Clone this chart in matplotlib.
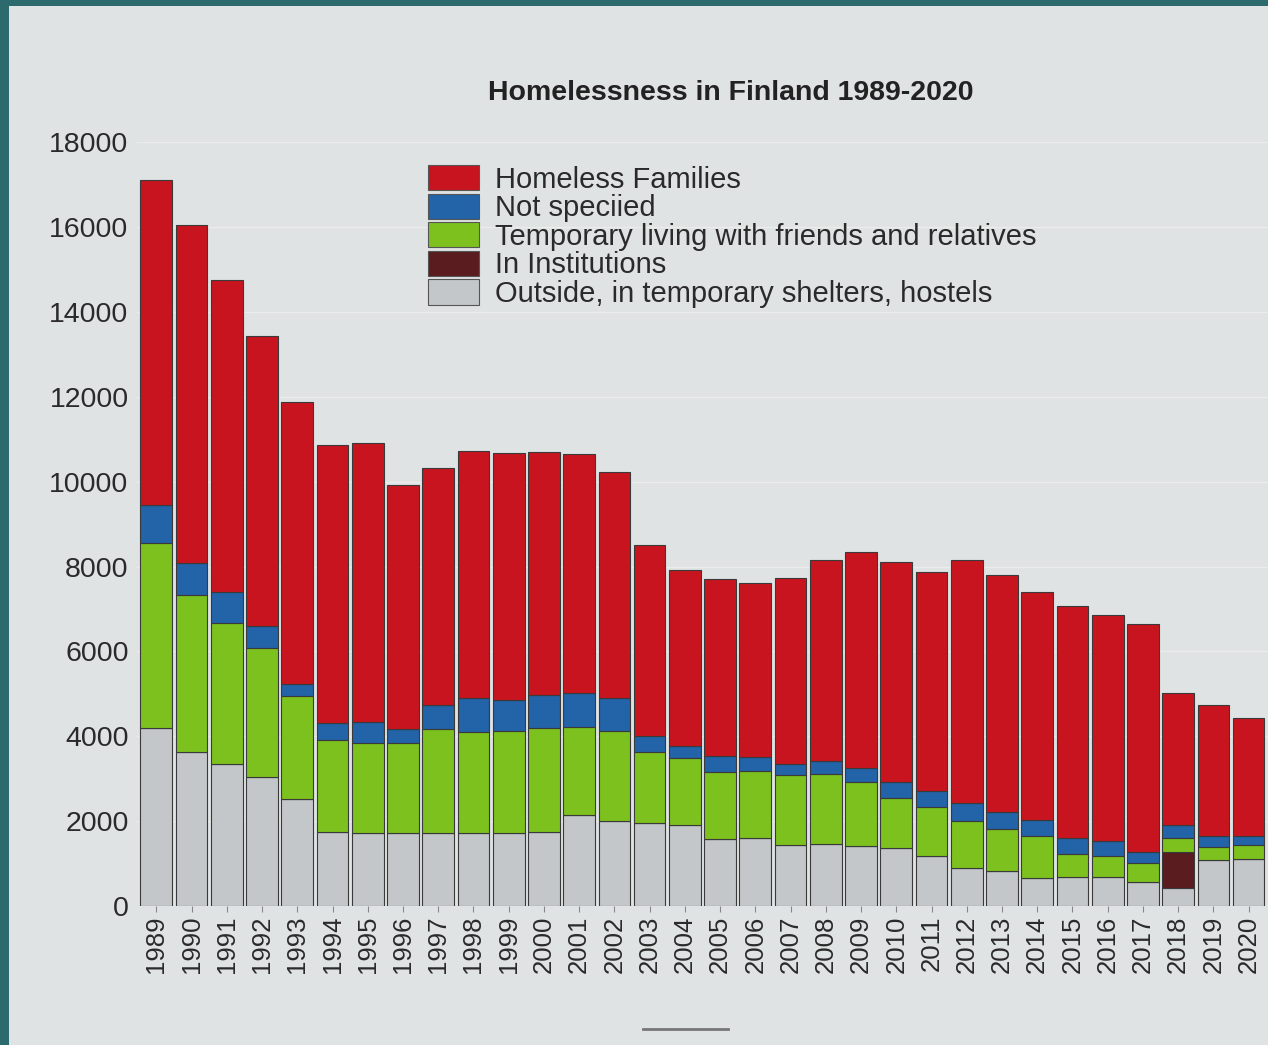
import matplotlib
matplotlib.use("Agg")
import matplotlib.pyplot as plt
from matplotlib.patches import Rectangle, Patch
import numpy as np

years = [str(y) for y in range(1989, 2021)]

outside = [4190, 3630, 3350, 3050, 2520, 1745, 1710, 1710, 1715, 1730, 1715, 1750,
           2150, 2000, 1960, 1900, 1570, 1610, 1440, 1465, 1415, 1360, 1170, 900,
           820, 665, 690, 690, 565, 415, 1085, 1110]
institutions = [0, 0, 0, 0, 0, 0, 0, 0, 0, 0, 0, 0,
                0, 0, 0, 0, 0, 0, 0, 0, 0, 0, 0, 0,
                0, 0, 0, 0, 0, 860, 0, 0]
temporary = [4360, 3700, 3330, 3025, 2435, 2170, 2135, 2135, 2460, 2380, 2420, 2440,
             2065, 2135, 1670, 1590, 1595, 1580, 1645, 1655, 1505, 1190, 1155, 1100,
             1000, 985, 545, 500, 460, 335, 315, 330]
not_specified = [910, 760, 730, 515, 275, 395, 495, 325, 555, 780, 715, 790,
                 795, 755, 385, 290, 365, 320, 265, 290, 325, 370, 390, 430,
                 405, 375, 375, 335, 250, 290, 250, 210]
families = [7640, 7960, 7350, 6840, 6640, 6550, 6580, 5750, 5600, 5840, 5820, 5710,
            5630, 5330, 4495, 4140, 4180, 4100, 4375, 4750, 5105, 5180, 5165, 5730,
            5565, 5370, 5450, 5335, 5365, 3130, 3080, 2780]

labels = ["Homeless Families", "Not speciied",
          "Temporary living with friends and relatives", "In Institutions",
          "Outside, in temporary shelters, hostels"]
colors = ["#c8141e", "#2363a8", "#7cc11d", "#5a1c1e", "#c4c7c9"]

plt.rcParams['font.family'] = ['Liberation Sans', 'DejaVu Sans']
bg = "#e0e3e3"
fig = plt.figure(figsize=(12.68, 10.45), dpi=100, facecolor=bg)
ax = fig.add_axes([0.108, 0.133, 0.892, 0.731], facecolor=bg)

x = np.arange(len(years))
series = [outside, institutions, temporary, not_specified, families]
scolors = [colors[4], colors[3], colors[2], colors[1], colors[0]]
bottom = np.zeros(len(years))
for vals, c in zip(series, scolors):
    v = np.array(vals, dtype=float)
    ax.bar(x, v, bottom=bottom, width=0.9, color=c, edgecolor="#3a3a3a",
           linewidth=0.8, zorder=3)
    bottom += v

ax.set_xlim(-0.55, len(years) - 0.45)
ax.set_ylim(0, 18000)
ax.set_yticks(range(0, 18001, 2000))
ax.set_yticklabels([str(v) for v in range(0, 18001, 2000)], fontsize=20.5, color="#2a2a2a")
ax.set_xticks(x)
ax.set_xticklabels(years, rotation=90, fontsize=18.5, color="#2a2a2a")
ax.tick_params(axis='y', length=0, pad=6)
ax.tick_params(axis='x', length=4, color="#888888", pad=3)
for s in ax.spines.values():
    s.set_visible(False)
ax.grid(axis='y', color="#ebeded", linewidth=1.0, zorder=0)

fig.text(0.576, 0.911, "Homelessness in Finland 1989-2020", ha="center", va="center",
         fontsize=20.5, fontweight="bold", color="#222222")

handles = [Patch(facecolor=c, edgecolor="#555555", linewidth=0.8) for c in colors]
leg = fig.legend(handles, labels, loc="upper left", bbox_to_anchor=(0.326, 0.856),
                 frameon=False, fontsize=21, handlelength=1.75, handleheight=0.95,
                 handletextpad=0.55, labelspacing=0.0, borderpad=0.0)
for t in leg.get_texts():
    t.set_color("#2a2a2a")

# photo frame
teal = "#2d6a6d"
fig.patches.append(Rectangle((0, 0), 0.007, 1, transform=fig.transFigure,
                             facecolor=teal, edgecolor="none", zorder=0))
fig.patches.append(Rectangle((0, 0.994), 1, 0.006, transform=fig.transFigure,
                             facecolor=teal, edgecolor="none", zorder=0))
fig.lines.append(plt.Line2D([0.507, 0.574], [0.015, 0.015], transform=fig.transFigure,
                            color="#777777", linewidth=2))

fig.savefig("out.png", dpi=100, facecolor=bg)
